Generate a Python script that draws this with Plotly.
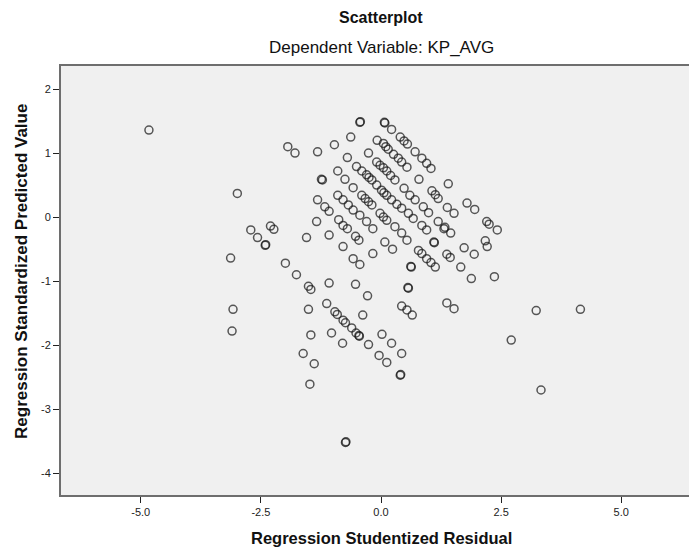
import plotly.graph_objects as go

# Regression Studentized Residual (x) and Regression Standardized Predicted Value (y)
resid = [
    -4.83, -2.99, -3.13, -3.08, -3.10, -2.71, -2.57, -2.40, -2.41, -2.30, -2.23,
    -1.99, -1.76, -1.51, -1.46, -1.51, -1.46, -1.62, -1.39, -1.48, -0.74, -0.73,
    -1.94, -1.79, -1.32, -1.24, -1.22, -1.55, -1.34, -1.32, -1.17, -1.08,
    -0.97, -0.63, -0.44, -0.43, 0.07, 0.08, -0.70, -0.26, -0.08, -0.90, -0.75, -0.58,
    -1.08, -0.79, -0.88, -0.79, -0.70, -0.53, -0.46, -0.58, -0.44, -0.17, 0.08, 0.24,
    -1.08, -0.53, -0.28, -1.13, -0.96, -0.91, -0.79, -0.74, -0.61, -0.52, -0.46, -0.45,
    -0.38, -1.03, -0.80, -0.26, 0.02, 0.22, -0.04, 0.12, 0.43, 0.40, 0.41,
    0.43, 0.54, 0.65, 1.37, 1.52, 3.23, 4.15, 2.71, 3.33, 0.56, 0.57, 0.63, 0.62,
    0.78, 0.85, 0.95, 1.04, 1.13, 1.37, 1.44, 1.66, 1.88, 2.36, 1.73, 1.94,
    2.17, 2.21, 2.20, 2.25, 2.42, 1.79, 1.95, 1.40, 1.38, 1.52, 1.31, 1.45, 1.10, 1.11,
    0.22, 0.40, 0.48, 0.55, 0.71, 0.85, 0.95, 1.04, 0.79, 1.06, 1.13, 1.19,
    0.05, 0.10, 0.15, 0.26, 0.36, 0.43, 0.54,
    -0.09, -0.02, 0.05, 0.12, 0.20, 0.29, 0.48, 0.60, 0.71, 0.88, 0.99, 1.19, 1.33,
    -0.51, -0.40, -0.30, -0.25, -0.19, -0.09, 0.01, 0.06, 0.12, 0.22, 0.33, 0.43, 0.57, 0.67, 0.85, 0.95,
    -0.40, -0.33, -0.26, -0.19, -0.02, 0.05, 0.12, 0.29, 0.43, 0.54,
    -0.90, -0.79, -0.68, -0.58, -0.44, -0.30, -0.17,
]
pred = [
    1.36, 0.37, -0.64, -1.44, -1.78, -0.20, -0.32, -0.43, -0.44, -0.14, -0.19,
    -0.72, -0.90, -1.08, -1.13, -1.44, -1.84, -2.13, -2.29, -2.61, -3.52, -3.51,
    1.10, 1.00, 1.02, 0.59, 0.58, -0.32, -0.07, 0.27, 0.16, 0.09,
    1.13, 1.25, 1.48, 1.49, 1.48, 1.47, 0.93, 1.00, 1.20, 0.72, 0.59, 0.46,
    -0.28, -0.46, -0.04, -0.13, -0.18, -0.30, -0.36, -0.65, -0.74, -0.57, -0.39, -0.50,
    -1.03, -1.05, -1.23, -1.35, -1.48, -1.52, -1.61, -1.65, -1.73, -1.81, -1.85, -1.86,
    -1.53, -1.81, -1.97, -1.99, -1.83, -1.97, -2.16, -2.27, -2.13, -2.47, -2.46,
    -1.39, -1.45, -1.53, -1.34, -1.43, -1.46, -1.44, -1.92, -2.70, -1.10, -1.11, -0.78, -0.77,
    -0.52, -0.57, -0.65, -0.71, -0.78, -0.58, -0.63, -0.78, -0.96, -0.93, -0.48, -0.58,
    -0.37, -0.46, -0.07, -0.11, -0.20, 0.22, 0.12, 0.52, 0.15, 0.06, -0.18, -0.25, -0.39, -0.40,
    1.37, 1.25, 1.19, 1.14, 1.02, 0.92, 0.84, 0.76, 0.59, 0.41, 0.35, 0.29,
    1.15, 1.10, 1.06, 0.98, 0.92, 0.86, 0.78,
    0.86, 0.81, 0.77, 0.72, 0.65, 0.58, 0.45, 0.34, 0.27, 0.16, 0.07, -0.07, -0.16,
    0.79, 0.72, 0.66, 0.62, 0.58, 0.50, 0.42, 0.38, 0.34, 0.27, 0.20, 0.14, 0.06, -0.02, -0.13, -0.20,
    0.34, 0.29, 0.24, 0.19, 0.06, 0.00, -0.05, -0.15, -0.25, -0.36,
    0.34, 0.27, 0.19, 0.11, 0.03, -0.07, -0.18,
]

x_ticks = [-5.0, -2.5, 0.0, 2.5, 5.0]
x_tick_labels = ["-5.0", "-2.5", "0.0", "2.5", "5.0"]
y_ticks = [2, 1, 0, -1, -2, -3, -4]
y_tick_labels = ["2", "1", "0", "-1", "-2", "-3", "-4"]

FONT = "Liberation Sans, Arial, sans-serif"

fig = go.Figure()
fig.add_trace(go.Scatter(
    x=resid, y=pred, mode="markers",
    marker=dict(symbol="circle-open", size=8, color="rgba(25,25,25,0.72)",
                line=dict(width=1.5, color="rgba(25,25,25,0.72)")),
    hoverinfo="x+y", showlegend=False,
))

fig.update_layout(
    width=689, height=549,
    margin=dict(l=61, r=0, t=66, b=54),
    paper_bgcolor="white",
    plot_bgcolor="#F0F0F0",
    font=dict(family=FONT, size=11, color="#222"),
    xaxis=dict(range=[-6.66, 6.41], tickvals=x_ticks, ticktext=x_tick_labels,
               showgrid=False, zeroline=False, showline=True, linecolor="#6e6e6e",
               linewidth=2, mirror=True, ticks="outside", ticklen=6, tickcolor="#222",
               tickfont=dict(size=11, color="#222")),
    yaxis=dict(range=[-4.34, 2.36], tickvals=y_ticks, ticktext=y_tick_labels,
               showgrid=False, zeroline=False, showline=True, linecolor="#6e6e6e",
               linewidth=2, mirror=False, ticks="outside", ticklen=6, tickcolor="#222",
               tickfont=dict(size=11, color="#222")),
    annotations=[
        dict(text="<b>Scatterplot</b>", xref="paper", yref="paper", x=0.51, y=1.112,
             showarrow=False, font=dict(size=16, color="#111"), yanchor="middle"),
        dict(text="Dependent Variable: KP_AVG", xref="paper", yref="paper", x=0.51, y=1.044,
             showarrow=False, font=dict(size=17, color="#111"), yanchor="middle"),
        dict(text="<b>Regression Studentized Residual</b>", xref="paper", yref="paper",
             x=0.51, y=-0.1, showarrow=False, font=dict(size=16.5, color="#111"), yanchor="middle"),
        dict(text="<b>Regression Standardized Predicted Value</b>", xref="paper", yref="paper",
             x=-0.062, y=0.52, textangle=-90, showarrow=False,
             font=dict(size=17, color="#111"), xanchor="center"),
    ],
)

fig.write_html("out.html", config={"displayModeBar": False},
               post_script="document.body.style.margin='0';")
